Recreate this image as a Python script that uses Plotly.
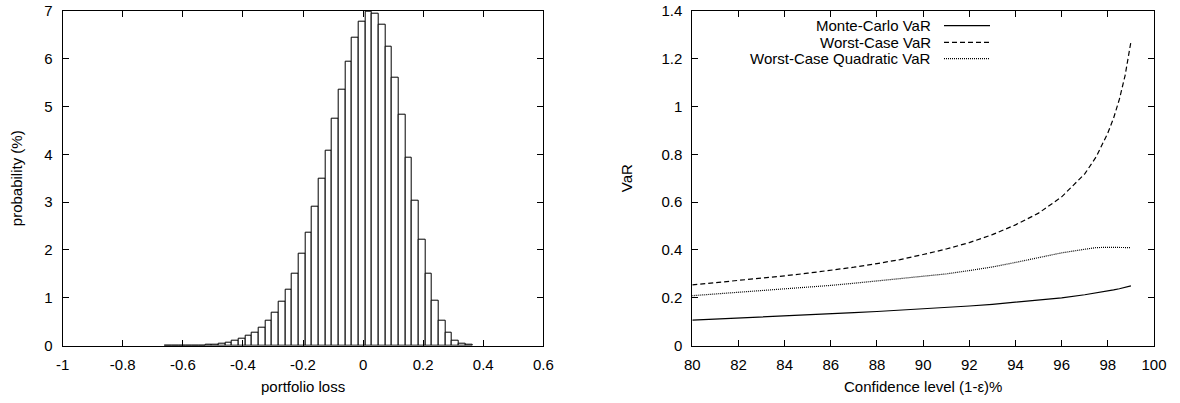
import plotly.graph_objects as go

W, H = 1180, 403

# ---------------- data: histogram of portfolio loss ----------------
bin_width = 0.02222
first_center = -0.6477
prob = [0.002, 0.002, 0.003, 0.005, 0.007, 0.01, 0.02,
        0.03, 0.05, 0.07, 0.10, 0.15, 0.20, 0.28, 0.38, 0.52, 0.70,
        0.92, 1.18, 1.51, 1.92, 2.36, 2.90, 3.48, 4.08, 4.74, 5.34,
        5.93, 6.44, 6.77, 6.97, 6.94, 6.71, 6.24, 5.61, 4.82, 3.93,
        3.04, 2.21, 1.50, 0.93, 0.52, 0.27, 0.11, 0.05, 0.02]
bin_centers = [round(first_center + i * bin_width, 4) for i in range(len(prob))]

hist_xticks = [-1, -0.8, -0.6, -0.4, -0.2, 0, 0.2, 0.4, 0.6]
hist_xtext = ["-1", "-0.8", "-0.6", "-0.4", "-0.2", "0", "0.2", "0.4", "0.6"]
hist_yticks = [0, 1, 2, 3, 4, 5, 6, 7]

# ---------------- data: VaR vs confidence ----------------
conf = [80, 81, 82, 83, 84, 85, 86, 87, 88, 89, 90, 91, 92, 93, 94, 95, 96, 97,
        97.5, 98, 98.25, 98.5, 98.75, 99]
mc_var = [0.107, 0.111, 0.116, 0.120, 0.125, 0.129, 0.134, 0.138, 0.143, 0.148,
          0.153, 0.159, 0.166, 0.173, 0.181, 0.190, 0.200, 0.213,
          0.220, 0.228, 0.233, 0.238, 0.244, 0.250]
wc_var = [0.254, 0.263, 0.272, 0.282, 0.292, 0.303, 0.315, 0.328, 0.343, 0.360,
          0.381, 0.404, 0.431, 0.464, 0.505, 0.554, 0.622, 0.718,
          0.790, 0.889, 0.951, 1.030, 1.130, 1.270]
wcq_var = [0.209, 0.216, 0.222, 0.229, 0.237, 0.244, 0.252, 0.261, 0.270, 0.279,
           0.288, 0.300, 0.314, 0.329, 0.348, 0.367, 0.388, 0.403,
           0.410, 0.411, 0.411, 0.410, 0.410, 0.410]

var_xticks = [80, 82, 84, 86, 88, 90, 92, 94, 96, 98, 100]
var_yticks = [0, 0.2, 0.4, 0.6, 0.8, 1, 1.2, 1.4]
var_ytext = ["0", "0.2", "0.4", "0.6", "0.8", "1", "1.2", "1.4"]

legend_names = ["Monte-Carlo VaR", "Worst-Case VaR", "Worst-Case Quadratic VaR"]
legend_dashes = ["solid", "5px,3px", "1px,1px"]

FONT = "Liberation Sans, Arial, sans-serif"
FS = 15

def px_x(p):
    return p / W

def px_y(p):
    return 1 - p / H

fig = go.Figure()

fig.add_trace(go.Bar(
    x=bin_centers, y=prob, width=bin_width,
    marker=dict(color="white", line=dict(color="black", width=1)),
    xaxis="x", yaxis="y", showlegend=False,
))

series = [mc_var, wc_var, wcq_var]
for name, vals, dash in zip(legend_names, series, legend_dashes):
    fig.add_trace(go.Scatter(
        x=conf, y=vals, mode="lines", name=name,
        line=dict(color="black", width=1.2, dash=dash),
        xaxis="x2", yaxis="y2", showlegend=False,
    ))

ydom = [px_y(345.7), px_y(10.7)]
axis_common = dict(
    showline=True, linecolor="black", linewidth=1, mirror="allticks",
    ticks="inside", ticklen=6, tickwidth=1, tickcolor="black",
    showgrid=False, zeroline=False, automargin=False,
    tickfont=dict(family=FONT, size=FS, color="black"),
)

fig.update_layout(
    width=W, height=H,
    margin=dict(l=0, r=0, t=0, b=0, autoexpand=False),
    paper_bgcolor="white", plot_bgcolor="white",
    bargap=0,
    xaxis=dict(domain=[px_x(62.7), px_x(543.3)], range=[-1, 0.6],
               tickvals=hist_xticks, ticktext=hist_xtext, anchor="y",
               ticklabelstandoff=5, **axis_common),
    yaxis=dict(domain=ydom, range=[0, 7], tickvals=hist_yticks, anchor="x",
               ticklabelstandoff=6, **axis_common),
    xaxis2=dict(domain=[px_x(692.3), px_x(1154)], range=[80, 100],
                tickvals=var_xticks, anchor="y2",
                ticklabelstandoff=5, **axis_common),
    yaxis2=dict(domain=ydom, range=[0, 1.4], tickvals=var_yticks,
                ticktext=var_ytext, anchor="x2",
                ticklabelstandoff=6, **axis_common),
)

# axis titles
titles = [
    ("probability (%)", 16, 178.2, -90),
    ("portfolio loss", 303, 386.7, 0),
    ("VaR", 626, 178.2, -90),
    ("Confidence level (1-ε)%", 922.5, 386.7, 0),
]
for text, x, y, ang in titles:
    fig.add_annotation(text=text, x=px_x(x), y=px_y(y), xref="paper", yref="paper",
                       showarrow=False, textangle=ang, xanchor="center", yanchor="middle",
                       font=dict(family=FONT, size=FS, color="black"))

# custom legend (text right-aligned, sample on the right, gnuplot style)
rows_y = [25.7, 42.3, 58.7]
for name, dash, ry in zip(legend_names, legend_dashes, rows_y):
    fig.add_annotation(text=name, x=px_x(933), y=px_y(ry), xref="paper", yref="paper",
                       showarrow=False, xanchor="right", yanchor="middle",
                       font=dict(family=FONT, size=FS, color="black"))
    fig.add_shape(type="line", xref="paper", yref="paper",
                  x0=px_x(944), x1=px_x(990), y0=px_y(ry), y1=px_y(ry),
                  line=dict(color="black", width=1.2, dash=dash))

fig.write_html("out.html")
